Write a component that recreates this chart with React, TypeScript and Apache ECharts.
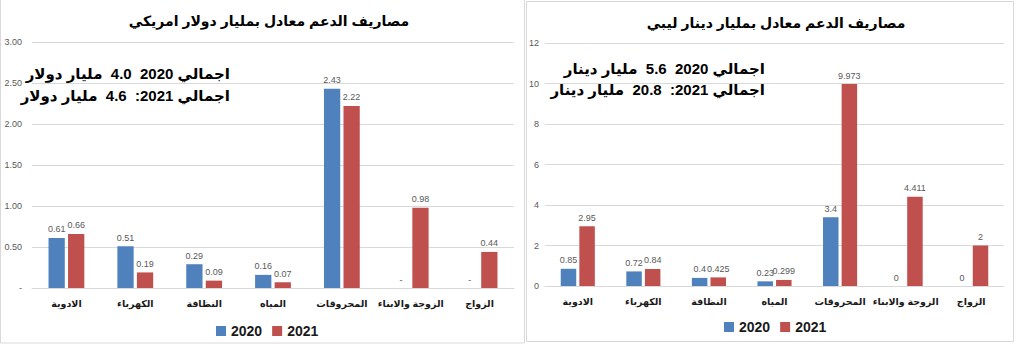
import React, { useEffect, useRef } from "react";
import * as echarts from "echarts";

const categories = ["الادوية", "الكهرباء", "النظافة", "المياه", "المحروقات", "الزوجة والابناء", "الزواج"];
const usd2020 = [0.61, 0.51, 0.29, 0.16, 2.43, 0, 0];
const usd2021 = [0.66, 0.19, 0.09, 0.07, 2.22, 0.98, 0.44];
const lyd2020 = [0.85, 0.72, 0.4, 0.23, 3.4, 0, 0];
const lyd2021 = [2.95, 0.84, 0.425, 0.299, 9.973, 4.411, 2];
const seriesNames = ["2020", "2021"];
const titleUsd = "مصاريف الدعم معادل بمليار دولار امريكي";
const titleLyd = "مصاريف الدعم معادل بمليار دينار ليبي";
const noteUsd = ["اجمالي 2020  4.0  مليار دولار", "اجمالي 2021:  4.6  مليار دولار"];
const noteLyd = ["اجمالي 2020  5.6  مليار دينار", "اجمالي 2021:  20.8  مليار دينار"];

const BLUE = "#4F81BD";
const RED = "#C0504D";
const FONT = "Arial, 'Liberation Sans', 'DejaVu Sans', sans-serif";

export default function App() {
  const ref = useRef<HTMLDivElement>(null);
  useEffect(() => {
    document.body.style.margin = "0";
    const chart = echarts.init(ref.current!, null, { renderer: "svg" });
    const labelStyle = { show: true, position: "top", fontSize: 9, color: "#595959", fontFamily: FONT, distance: 4 };
    const usdLabel = { ...labelStyle, formatter: (p: any) => (p.value === 0 ? "-" : Number(p.value).toFixed(2)) };
    const lydLabel = { ...labelStyle, formatter: (p: any) => String(p.value) };
    const xAxisCommon = {
      type: "category",
      data: categories,
      axisLine: { lineStyle: { color: "#d9d9d9" } },
      axisTick: { show: false },
      axisLabel: { fontSize: 9.5, fontWeight: "bold", color: "#1a1a1a", fontFamily: FONT, margin: 10, interval: 0 },
    };
    const yCommon = {
      type: "value",
      axisLine: { show: false },
      axisTick: { show: false },
      splitLine: { lineStyle: { color: "#d9d9d9" } },
    };
    const barCommon = { type: "bar", barCategoryGap: "48%", barGap: "20%" };
    const legendText = { fontSize: 14, fontWeight: "bold", color: "#1a1a1a", fontFamily: FONT };
    const noteStyle = { textAlign: "right", textVerticalAlign: "middle", fill: "#000", font: `bold 15px ${FONT}` };
    chart.setOption({
      animation: false,
      textStyle: { fontFamily: FONT },
      title: [
        { text: titleUsd, left: 264, top: 9, textAlign: "center", textStyle: { fontSize: 14, fontWeight: "bold", color: "#000", fontFamily: FONT } },
        { text: titleLyd, left: 771, top: 11, textAlign: "center", textStyle: { fontSize: 14, fontWeight: "bold", color: "#000", fontFamily: FONT } },
      ],
      legend: [
        { data: seriesNames, left: 211, top: 319, itemWidth: 10, itemHeight: 10, icon: "rect", itemGap: 10, textStyle: legendText },
        { data: seriesNames, left: 719, top: 315, itemWidth: 10, itemHeight: 10, icon: "rect", itemGap: 10, textStyle: legendText },
      ],
      grid: [
        { left: 32, right: 510, top: 42, bottom: 70, containLabel: false },
        { left: 545, right: 20, top: 43, bottom: 72, containLabel: false },
      ],
      xAxis: [
        { ...xAxisCommon, gridIndex: 0 },
        { ...xAxisCommon, gridIndex: 1 },
      ],
      yAxis: [
        {
          ...yCommon,
          gridIndex: 0,
          min: 0,
          max: 3,
          interval: 0.5,
          axisLabel: { fontSize: 9, color: "#595959", margin: 10, formatter: (v: number) => (v === 0 ? "-" : v.toFixed(2)) },
        },
        {
          ...yCommon,
          gridIndex: 1,
          min: 0,
          max: 12,
          interval: 2,
          axisLabel: { fontSize: 9, color: "#595959", margin: 6 },
        },
      ],
      series: [
        { ...barCommon, name: seriesNames[0], xAxisIndex: 0, yAxisIndex: 0, data: usd2020, itemStyle: { color: BLUE }, label: usdLabel },
        { ...barCommon, name: seriesNames[1], xAxisIndex: 0, yAxisIndex: 0, data: usd2021, itemStyle: { color: RED }, label: usdLabel },
        { ...barCommon, name: seriesNames[0], xAxisIndex: 1, yAxisIndex: 1, data: lyd2020, itemStyle: { color: BLUE }, label: lydLabel },
        { ...barCommon, name: seriesNames[1], xAxisIndex: 1, yAxisIndex: 1, data: lyd2021, itemStyle: { color: RED }, label: lydLabel },
      ],
      graphic: [
        { type: "rect", shape: { x: 0.5, y: -2, width: 524, height: 345 }, style: { fill: "none", stroke: "#d9d9d9", lineWidth: 1 }, silent: true },
        { type: "rect", shape: { x: 526.5, y: 1.5, width: 487, height: 340 }, style: { fill: "none", stroke: "#d9d9d9", lineWidth: 1 }, silent: true },
        { type: "text", x: 230, y: 73, style: { ...noteStyle, text: noteUsd[0] } },
        { type: "text", x: 230, y: 95, style: { ...noteStyle, text: noteUsd[1] } },
        { type: "text", x: 765, y: 68, style: { ...noteStyle, text: noteLyd[0] } },
        { type: "text", x: 765, y: 89, style: { ...noteStyle, text: noteLyd[1] } },
      ],
    });
    return () => chart.dispose();
  }, []);
  return <div ref={ref} style={{ width: 1024, height: 358 }} />;
}
